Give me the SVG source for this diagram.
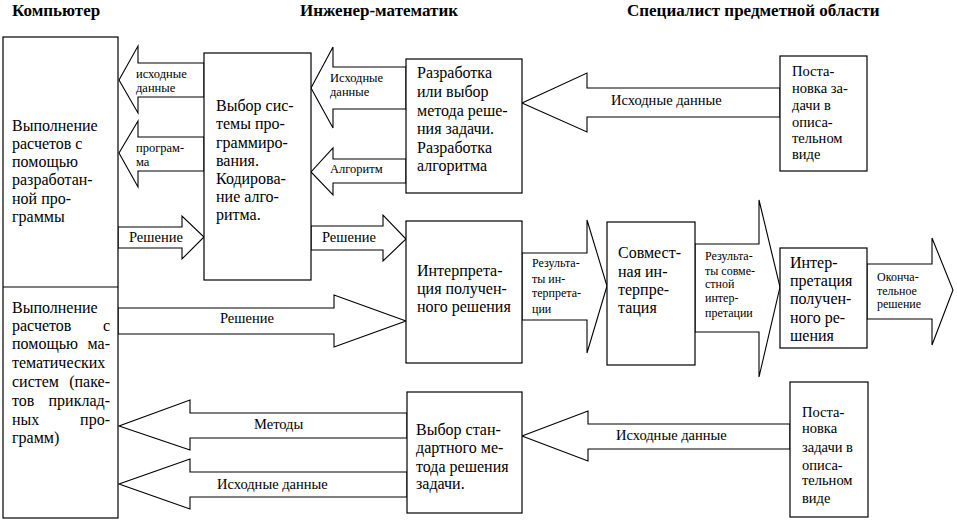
<svg xmlns="http://www.w3.org/2000/svg" width="957" height="521" viewBox="0 0 957 521" font-family="'Liberation Serif', 'DejaVu Serif', serif">
<style>
.box{fill:#fff;stroke:#000;stroke-width:1.2}
.arr{fill:#fff;stroke:#000;stroke-width:1.1;stroke-linejoin:miter}
.t{font-size:16px}
.m{font-size:14.5px}
.s{font-size:12.5px}
.xs{font-size:12px}
.h{font-size:17px;font-weight:bold}
</style>
<rect width="957" height="521" fill="#fff"/>
<g id="titles" font-family="'Liberation Serif', serif">
<text class="h" x="12" y="16">Компьютер</text>
<text class="h" x="300" y="16">Инженер-математик</text>
<text class="h" x="627" y="16">Специалист предметной области</text>
</g>
<g id="connectors" font-family="'Liberation Serif', serif">
<polygon class="arr" points="204,63 138,63 138,46 119,80 138,113 138,97 204,97"/>
<polygon class="arr" points="204,137 138,137 138,121 119,153 138,187 138,171 204,171"/>
<polygon class="arr" points="118,227 182,227 182,216 204,237 182,259 182,248 118,248"/>
<polygon class="arr" points="406,67 333,67 333,47 311,88 333,128 333,109 406,109"/>
<polygon class="arr" points="406,159 333,159 333,148 311,172 333,195 333,183 406,183"/>
<polygon class="arr" points="780,88 587,88 587,73 522,103 587,132 587,117 780,117"/>
<polygon class="arr" points="311,226 383,226 383,215 406,239 383,261 383,250 311,250"/>
<polygon class="arr" points="118,308 334,308 334,295 406,321 334,347 334,334 118,334"/>
<polygon class="arr" points="522,253 587,253 587,220 607,286 587,353 587,320 522,320"/>
<polygon class="arr" points="695,244 759,244 759,200 780,287 759,377 759,332 695,332"/>
<polygon class="arr" points="867,264 932,264 932,238 953,290 932,345 932,319 867,319"/>
<polygon class="arr" points="407,413 190,413 190,400 119,426 190,450 190,438 407,438"/>
<polygon class="arr" points="407,472 190,472 190,459 119,484 190,509 190,497 407,497"/>
<polygon class="arr" points="790,424 588,424 588,411 522,436 588,461 588,449 790,449"/>
<text class="s" x="136" y="78">исходные</text>
<text class="s" x="136" y="92">данные</text>
<text class="s" x="136" y="152">програм-</text>
<text class="s" x="136" y="166">ма</text>
<text class="m" x="129" y="242">Решение</text>
<text class="s" x="330" y="82">Исходные</text>
<text class="s" x="330" y="96">данные</text>
<text class="s" x="330" y="173">Алгоритм</text>
<text class="m" x="611" y="105">Исходные данные</text>
<text class="m" x="322" y="242">Решение</text>
<text class="m" x="220" y="323">Решение</text>
<text class="xs" x="532" y="267">Результа-</text>
<text class="xs" x="532" y="283">ты ин-</text>
<text class="xs" x="532" y="297">терпрета-</text>
<text class="xs" x="532" y="313">ции</text>
<text class="xs" x="705" y="260">Результа-</text>
<text class="xs" x="705" y="275">ты совме-</text>
<text class="xs" x="705" y="288">стной</text>
<text class="xs" x="705" y="302">интер-</text>
<text class="xs" x="705" y="317">претации</text>
<text class="xs" x="877" y="281">Оконча-</text>
<text class="xs" x="877" y="294.5">тельное</text>
<text class="xs" x="877" y="308">решение</text>
<text class="m" x="254" y="429">Методы</text>
<text class="m" x="217" y="489">Исходные данные</text>
<text class="m" x="616" y="440">Исходные данные</text>
</g>
<g id="node-computer">
<rect class="box" x="3" y="37" width="115" height="481"/>
<line x1="3" y1="287" x2="118" y2="287" stroke="#000" stroke-width="1.2"/>
<text class="t" x="12" y="131">Выполнение</text>
<text class="t" x="12" y="149">расчетов с</text>
<text class="t" x="12" y="167">помощью</text>
<text class="t" x="12" y="185">разработан-</text>
<text class="t" x="12" y="204">ной про-</text>
<text class="t" x="12" y="222">граммы</text>
<text class="t" x="12" y="313">Выполнение</text>
<text class="t" x="12" y="331">расчетов</text><text class="t" x="110" y="331" text-anchor="end">с</text>
<text class="t" x="12" y="349">помощью</text><text class="t" x="110" y="349" text-anchor="end">ма-</text>
<text class="t" x="12" y="368">тематических</text>
<text class="t" x="12" y="387">систем</text><text class="t" x="110" y="387" text-anchor="end">(паке-</text>
<text class="t" x="12" y="406">тов</text><text class="t" x="110" y="406" text-anchor="end">приклад-</text>
<text class="t" x="12" y="425">ных</text><text class="t" x="110" y="425" text-anchor="end">про-</text>
<text class="t" x="12" y="443">грамм)</text>
</g>
<g id="node-choice-system">
<rect class="box" x="204" y="53" width="107" height="227"/>
<text class="t" x="216" y="111">Выбор сис-</text>
<text class="t" x="216" y="129">темы про-</text>
<text class="t" x="216" y="148">граммиро-</text>
<text class="t" x="216" y="166">вания.</text>
<text class="t" x="216" y="184">Кодирова-</text>
<text class="t" x="216" y="202">ние алго-</text>
<text class="t" x="216" y="220">ритма.</text>
</g>
<g id="node-develop">
<rect class="box" x="406" y="59" width="116" height="134"/>
<text class="t" x="417" y="78">Разработка</text>
<text class="t" x="417" y="97">или выбор</text>
<text class="t" x="417" y="116">метода реше-</text>
<text class="t" x="417" y="134">ния задачи.</text>
<text class="t" x="417" y="153">Разработка</text>
<text class="t" x="417" y="171">алгоритма</text>
</g>
<g id="node-statement-1">
<rect class="box" x="780" y="56" width="87" height="115"/>
<text class="m" x="792" y="76">Поста-</text>
<text class="m" x="792" y="93">новка за-</text>
<text class="m" x="792" y="110">дачи в</text>
<text class="m" x="792" y="127">описа-</text>
<text class="m" x="792" y="143">тельном</text>
<text class="m" x="792" y="159">виде</text>
</g>
<g id="node-interpret">
<rect class="box" x="406" y="221" width="116" height="142"/>
<text class="t" x="417" y="276">Интерпрета-</text>
<text class="t" x="417" y="294">ция получен-</text>
<text class="t" x="417" y="312">ного решения</text>
</g>
<g id="node-joint">
<rect class="box" x="607" y="222" width="88" height="143"/>
<text class="t" x="618" y="258">Совмест-</text>
<text class="t" x="618" y="277">ная ин-</text>
<text class="t" x="618" y="295">терпре-</text>
<text class="t" x="618" y="313">тация</text>
</g>
<g id="node-interpret-2">
<rect class="box" x="780" y="248" width="87" height="100"/>
<text class="t" x="790" y="268">Интер-</text>
<text class="t" x="790" y="286">претация</text>
<text class="t" x="790" y="304">получен-</text>
<text class="t" x="790" y="323">ного ре-</text>
<text class="t" x="790" y="341">шения</text>
</g>
<g id="node-standard">
<rect class="box" x="407" y="392" width="115" height="121"/>
<text class="t" x="416" y="435">Выбор стан-</text>
<text class="t" x="416" y="453">дартного ме-</text>
<text class="t" x="416" y="472">тода решения</text>
<text class="t" x="416" y="489">задачи.</text>
</g>
<g id="node-statement-2">
<rect class="box" x="790" y="382" width="78" height="135"/>
<text class="m" x="802" y="417">Поста-</text>
<text class="m" x="802" y="433">новка</text>
<text class="m" x="802" y="452">задачи в</text>
<text class="m" x="802" y="470">описа-</text>
<text class="m" x="802" y="485">тельном</text>
<text class="m" x="802" y="503">виде</text>
</g>
</svg>
